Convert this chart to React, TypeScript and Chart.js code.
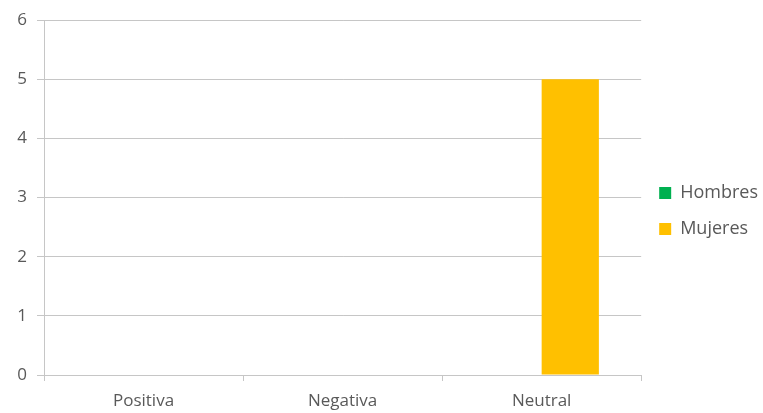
import React, { useEffect, useRef } from "react";
import { Chart, registerables } from "chart.js";

Chart.register(...registerables);

const categories = ["Positiva", "Negativa", "Neutral"];
const hombres = [0, 0, 0];
const mujeres = [0, 0, 5];
const yTicks = [0, 1, 2, 3, 4, 5, 6];

const TEXT = "#595959";
const GRID = "#c6c6c6";
const FONT = "'Open Sans', sans-serif";

export default function App() {
  const ref = useRef<HTMLCanvasElement | null>(null);
  useEffect(() => {
    document.body.style.margin = "0";
    if (!ref.current) return;
    const chart = new Chart(ref.current, {
      type: "bar",
      data: {
        labels: categories,
        datasets: [
          { label: "Hombres", data: hombres, backgroundColor: "#00b050" },
          { label: "Mujeres", data: mujeres, backgroundColor: "#ffc000" },
        ],
      },
      options: {
        animation: false,
        responsive: false,
        maintainAspectRatio: false,
        devicePixelRatio: 1,
        layout: { padding: { top: -3, left: 0, right: -5, bottom: 0 } },
        datasets: { bar: { categoryPercentage: 0.575, barPercentage: 1 } },
        plugins: {
          tooltip: { enabled: false },
          legend: {
            position: "right",
            align: "center",
            title: {
              display: true,
              text: " ",
              font: { family: FONT, size: 10, lineHeight: 1.2 },
              padding: 0,
            },
            labels: {
              boxWidth: 12,
              boxHeight: 12,
              color: TEXT,
              font: { family: FONT, size: 18 },
              padding: 18,
            },
          },
        },
        scales: {
          x: {
            afterFit: (axis: any) => {
              axis.height = 38;
            },
            grid: {
              offset: true,
              drawOnChartArea: false,
              drawTicks: true,
              tickLength: 6,
              color: GRID,
            },
            border: { color: GRID },
            ticks: { color: TEXT, font: { family: FONT, size: 17 }, padding: 10 },
          },
          y: {
            min: 0,
            max: 6,
            afterFit: (axis: any) => {
              axis.width = 44;
            },
            afterBuildTicks: (axis: any) => {
              axis.ticks = yTicks.map((v) => ({ value: v }));
            },
            grid: { color: GRID, tickLength: 7 },
            border: { color: GRID },
            ticks: { color: TEXT, font: { family: FONT, size: 17 }, padding: 10 },
          },
        },
      },
    });
    return () => chart.destroy();
  }, []);
  return (
    <div style={{ position: "fixed", left: 0, top: 0, width: 763, height: 413, background: "#fff" }}>
      <canvas ref={ref} width={763} height={413} />
    </div>
  );
}
